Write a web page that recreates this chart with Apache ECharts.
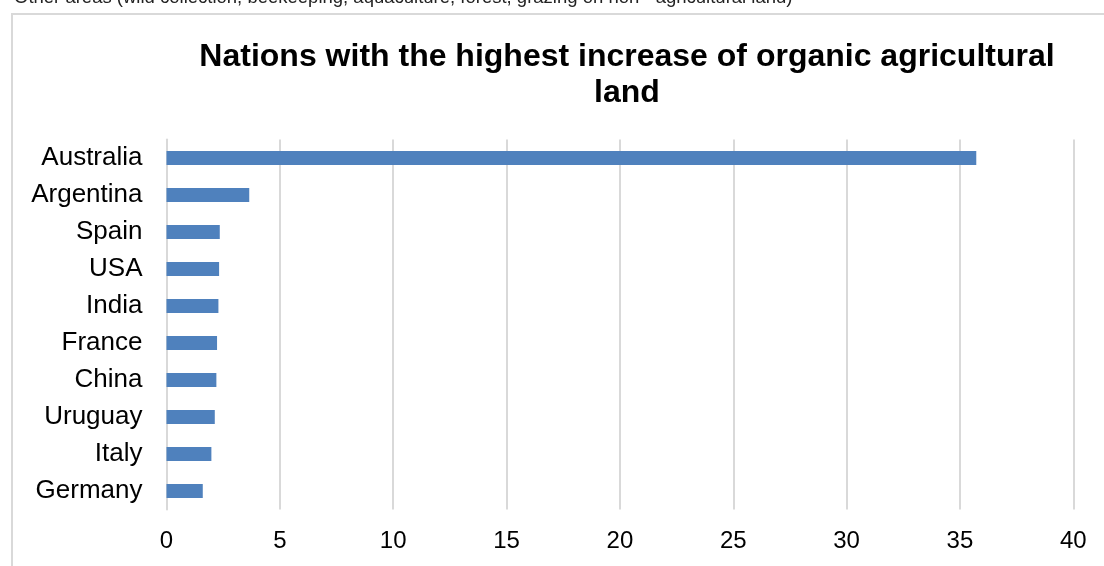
<!DOCTYPE html>
<html>
<head>
<meta charset="utf-8">
<script src="https://cdn.jsdelivr.net/npm/echarts@6/dist/echarts.min.js"></script>
<style>
html,body{margin:0;padding:0;background:#fff;}
#c{width:1104px;height:566px;}
</style>
</head>
<body>
<div id="c"></div>
<script>
const categories = ['Australia','Argentina','Spain','USA','India','France','China','Uruguay','Italy','Germany'];
const values = [35.72, 3.65, 2.35, 2.32, 2.29, 2.23, 2.2, 2.13, 1.98, 1.6];
const titleText = 'Nations with the highest increase of organic agricultural\nland';
const topNote = 'Other areas (wild collection, beekeeping, aquaculture, forest, grazing on non - agricultural land)';

const chart = echarts.init(document.getElementById('c'), null, {renderer:'canvas'});
chart.setOption({
  animation: false,
  backgroundColor: '#fff',
  textStyle: {fontFamily: 'Liberation Sans, Arial, sans-serif'},
  title: {
    text: titleText,
    left: 622, top: 34,
    textAlign: 'center',
    textStyle: {fontSize: 32, fontWeight: 'bold', color: '#000', lineHeight: 36, fontFamily: 'Liberation Sans, Arial, sans-serif'}
  },
  graphic: [
    {type:'rect', shape:{x:12, y:14, width:1200, height:700}, style:{fill:'none', stroke:'#d9d9d9', lineWidth:2}, z:-1},
    {type:'text', x:14, y:7, style:{text: topNote, fontSize:18.5, fill:'#222', verticalAlign:'bottom', fontFamily:'Liberation Sans, Arial, sans-serif'}}
  ],
  grid: {left: 166.5, right: 30.7, top: 139.5, bottom: 56.5, containLabel: false},
  xAxis: {
    type: 'value', min: 0, max: 40, interval: 5,
    axisLine: {show: false}, axisTick: {show: false},
    axisLabel: {fontSize: 24, color: '#000', margin: 20},
    splitLine: {show: true, lineStyle: {color: '#d9d9d9', width: 2}}
  },
  yAxis: {
    type: 'category', data: categories, inverse: true,
    axisLine: {show: true, lineStyle: {color: '#d9d9d9', width: 2}},
    axisTick: {show: false},
    axisLabel: {fontSize: 26, color: '#000', margin: 24}
  },
  series: [{
    type: 'bar', data: values, barWidth: 14,
    itemStyle: {color: '#4f81bd'}
  }]
});
</script>
</body>
</html>
